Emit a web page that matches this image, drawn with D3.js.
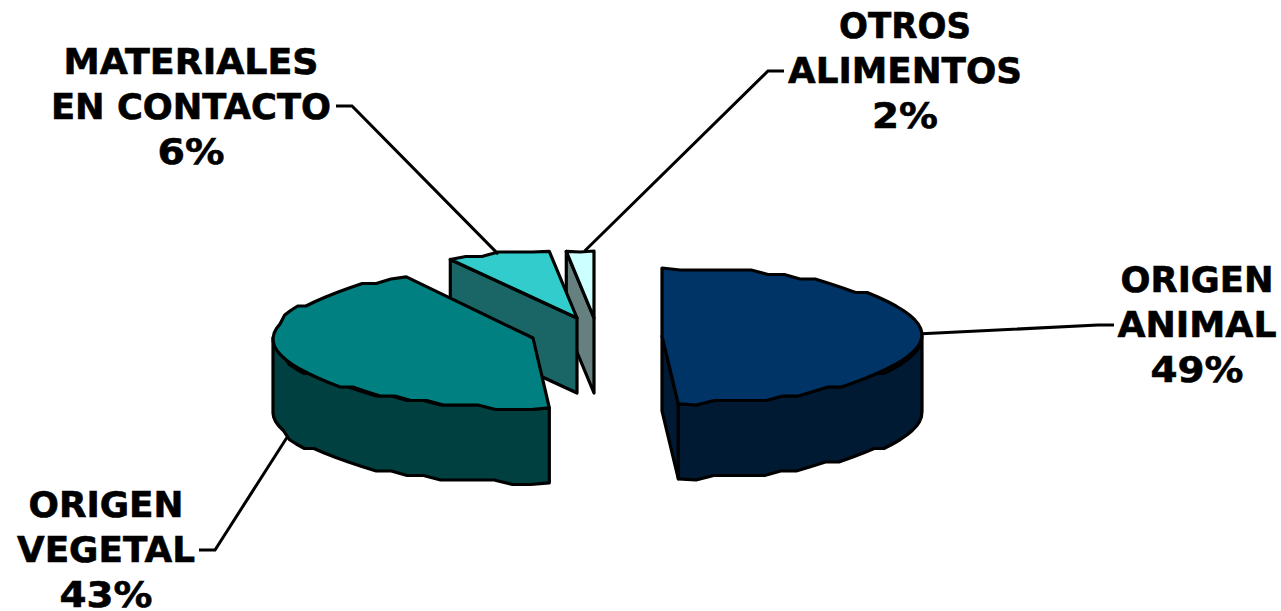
<!DOCTYPE html>
<html><head><meta charset="utf-8">
<script src="https://cdn.jsdelivr.net/npm/d3@7"></script>
<style>html,body{margin:0;background:#fff}svg{display:block}text{font-family:"DejaVu Sans",Verdana,sans-serif;font-weight:bold;fill:#000;stroke:#000;stroke-width:.6px}</style>
</head><body><svg id="c" width="1281" height="611"></svg>
<script>
const categories = ["ORIGEN ANIMAL","ORIGEN VEGETAL","MATERIALES EN CONTACTO","OTROS ALIMENTOS"];
const values = [49, 42.9, 6.4, 1.7];
const labelLines = [["ORIGEN","ANIMAL"],["ORIGEN","VEGETAL"],["MATERIALES","EN CONTACTO"],["OTROS","ALIMENTOS"]];
const topColors = ["#003366","#008080","#33CCCC","#CCFFFF"];
const sideColors = ["#001A33","#004040","#1A6666","#668080"];

// layout (not data)
const centers = [[662,336],[533,338],[577,318],[594,318]];
const radiiY = [68,70,67,67];
const RX = 260, DEPTH = 75, GRID = 4.5;
const labelPos = [[1197,292],[106,517],[191,74],[905,38]];
const lineWidths = [[153,159,93],[155,178,93],[255,280,67],[132,234,66]];
const elbows = [[1098,325,1114],[215,550,199],[352,106,336],[768,71,784]];
const anchorShift = [0,-3,0,1];
const anchorOnBase = [false,true,false,false];

const svg = d3.select("#c");
const total = d3.sum(values);
const pie = d3.pie().sort(null).value(d=>d)(values);
const pct = d3.format(".0%");
const toDeg = 180/Math.PI;

function proj(i,a,z=0){
  return [centers[i][0]+RX*Math.sin(a), centers[i][1]-radiiY[i]*Math.cos(a)+z];
}
// Coarse rim, as the low-resolution polygon of the original
function rim(i,a0,a1,z=0){
  const n = Math.max(2,Math.round((a1-a0)*toDeg/4));
  return d3.range(n+1).map(k=>{
    const a=a0+(a1-a0)*k/n, p=proj(i,a,0);
    if(k===0||k===n) return [p[0],p[1]+z];
    return [p[0],Math.round(p[1]/GRID)*GRID+z];
  });
}
const line = d3.line().curve(d3.curveLinear);
const poly = pts => line(pts)+"Z";
const style = (sel,fill)=>sel.attr("fill",fill).attr("stroke","#000").attr("stroke-width",3.2).attr("stroke-linejoin","round");

// back-to-front: small wedges first
const order = [3,2,1,0];
const g = svg.append("g");
order.forEach(i=>{
  const s = pie[i], c=centers[i];
  const apex=[c[0],c[1]];
  const face = a => {
    const p=proj(i,a);
    return [apex,p,[p[0],p[1]+DEPTH],[apex[0],apex[1]+DEPTH]];
  };
  if(-Math.sin(s.startAngle)>1e-6) style(g.append("path").attr("d",poly(face(s.startAngle))),sideColors[i]);
  if(Math.sin(s.endAngle)>1e-6) style(g.append("path").attr("d",poly(face(s.endAngle))),sideColors[i]);
  const f0=Math.max(s.startAngle,Math.PI/2), f1=Math.min(s.endAngle,3*Math.PI/2);
  if(f1>f0){
    const up=rim(i,f0,f1,0), dn=rim(i,f0,f1,DEPTH).reverse();
    style(g.append("path").attr("d",poly(up.concat(dn))),sideColors[i]);
  }
  const top=[apex].concat(rim(i,s.startAngle,s.endAngle,0));
  style(g.append("path").attr("d",poly(top)),topColors[i]);
});

// leader lines and labels
pie.forEach((s,i)=>{
  const mid=(s.startAngle+s.endAngle)/2+anchorShift[i]/toDeg;
  const p=proj(i,mid,anchorOnBase[i]?DEPTH:0), e=elbows[i];
  svg.append("path").attr("d",line([p,[e[0],e[1]],[e[2],e[1]]]))
    .attr("fill","none").attr("stroke","#000").attr("stroke-width",3);
  labelLines[i].concat(pct(values[i]/total)).forEach((l,k)=>{
    svg.append("text").attr("text-anchor","middle").attr("font-size",35.5)
      .attr("x",labelPos[i][0]).attr("y",labelPos[i][1]+k*45)
      .attr("textLength",lineWidths[i][k]).attr("lengthAdjust","spacingAndGlyphs")
      .text(l);
  });
});
</script></body></html>
